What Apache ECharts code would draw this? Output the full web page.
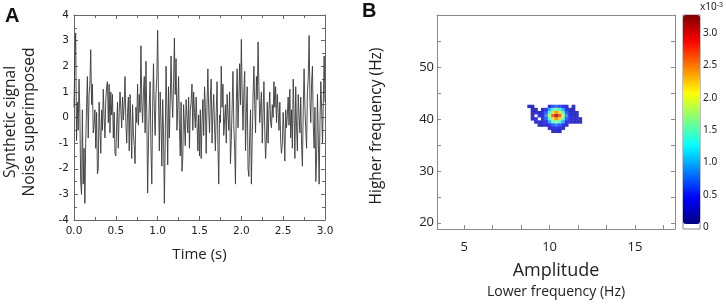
<!DOCTYPE html>
<html>
<head>
<meta charset="utf-8">
<script src="https://cdn.jsdelivr.net/npm/echarts@6/dist/echarts.min.js"></script>
<style>
  html, body { margin: 0; padding: 0; background: #fff; }
  #chart { width: 726px; height: 304px; }
</style>
</head>
<body>
<div id="chart"></div>
<script>
// A: synthetic signal, sampled every 10 ms over 0..3 s
const sampleStep = 0.01;
const signal = [
  0.4, 2.3, 3.3, -0.9, 0.6, -0.5, 1.5, 0.2, -2.5, -3.0,
  0.3, -2.6, -1.2, -3.35, -1.0, 0.4, 1.6, -0.8, 0.9, 1.3,
  2.65, 0.5, 1.3, -0.6, -0.3, 0.3, -1.2, 0.2, -2.2, -2.0,
  0.6, -0.4, -1.4, 0.3, -0.5, 1.1, 0.0, -0.8, 0.7, 1.2,
  1.4, -0.2, 1.3, -0.6, 1.0, 0.1, 0.9, -0.8, 0.2, -1.4,
  -1.5, -0.3, 0.6, -1.2, 0.2, 1.0, 0.3, -0.4, 0.8, -0.1,
  0.5, 1.6, -0.2, -1.0, 0.2, 0.8, -1.3, 0.9, -0.3, -1.6,
  0.5, -0.6, -1.1, -1.8, 0.4, -0.2, 1.3, -0.3, 0.9, 0.2,
  2.8, 0.6, -0.2, 1.0, 1.6, -0.6, 2.2, 0.1, -2.95, -1.0,
  0.5, 1.4, -1.2, -2.6, 0.4, 2.1, 0.3, -0.7, 0.9, 1.6,
  3.4, 0.8, -1.3, 1.0, -0.2, -1.9, 0.7, -0.6, -3.35, -1.0,
  2.0, 0.4, -1.85, 1.2, -0.8, 0.6, 2.4, 0.8, 0.0, 1.4,
  3.1, 0.9, 2.3, -0.5, 0.4, 1.6, -0.4, -1.5, 0.6, -2.1,
  -1.6, 0.5, -0.3, -1.1, 0.7, 0.0, -0.6, 0.8, -1.2, 0.3,
  0.6, 1.3, -0.5, 1.0, 0.2, -0.4, 0.8, -0.2, -1.3, 0.1,
  -1.5, 0.3, -1.6, -0.2, 0.7, -0.7, 1.2, 0.4, -1.4, 0.5,
  1.9, 0.3, -0.6, 0.8, 1.5, -1.0, 0.2, 0.9, -0.4, -1.3,
  0.2, 1.4, -1.1, -2.6, 0.1, -0.2, 2.0, 0.4, 1.3, -0.7,
  -0.1, 0.5, -1.0, 0.9, 0.1, -0.5, 1.0, -1.8, -0.9, 0.4,
  1.8, -0.3, -1.2, -2.6, 0.6, 1.9, -0.4, 0.7, 2.1, 0.5,
  3.05, 0.9, -0.5, 1.0, 1.8, -1.3, 0.2, 1.2, -2.0, -2.3,
  -0.8, 0.3, -2.6, -0.9, 0.8, 2.0, 0.5, -0.6, 1.6, 0.7,
  2.95, 1.2, -0.2, 0.4, 1.0, -1.0, 0.2, 1.4, -0.5, -1.6,
  -0.8, 0.6, -1.0, 0.3, 1.0, -0.2, -0.4, 0.5, 0.0, 1.4,
  0.4, 1.2, -0.2, 0.9, 0.2, -0.5, 0.6, -0.9, -1.4, -1.0,
  0.2, -0.6, -1.7, 0.3, -0.4, 0.1, 0.8, -0.3, 1.1, -0.8,
  0.3, -1.2, 1.5, 0.2, -1.6, 1.2, -0.4, -1.3, 0.9, 0.1,
  -0.6, 0.8, -1.1, -1.9, 0.3, 1.9, 0.4, -0.5, -1.2, 1.0,
  1.6, 3.2, 0.7, -0.2, 1.4, 2.0, -0.3, -1.2, 0.4, -2.5,
  -1.5, 0.9, -0.8, -2.6, -0.2, 1.4, 0.3, -1.0, 0.6, 2.4,
  0.6
];

// B: comodulogram cells (power in units of 1e-3)
const lowFreq = [8.8, 9.0, 9.2, 9.4, 9.6, 9.8, 10.0, 10.2, 10.4, 10.6, 10.8, 11.0, 11.2, 11.4, 11.6, 11.8];
const highFreq = [42.4, 41.8, 41.2, 40.6, 40.0, 39.4, 38.8, 38.2, 37.6];
const power = [
  [0.15, 0.15, 0, 0, 0, 0, 0.3, 0.55, 0.7, 0.55, 0.35, 0.2, 0, 0.2, 0, 0],
  [0, 0.2, 0.15, 0, 0.2, 0.35, 0.9, 1.4, 1.7, 1.4, 0.9, 0.35, 0.2, 0.15, 0, 0],
  [0, 0.2, 0.25, 0.15, 0.3, 0.6, 1.4, 2.2, 2.5, 2.2, 1.4, 0.6, 0.25, 0.2, 0.15, 0],
  [0, 0.15, 0, 0.25, 0.3, 0.8, 1.8, 2.7, 3.25, 2.7, 1.8, 0.8, 0.3, 0.2, 0.25, 0],
  [0, 0.2, 0.3, 0, 0.25, 0.6, 1.4, 2.2, 2.5, 2.2, 1.4, 0.6, 0.3, 0.2, 0.2, 0.15],
  [0, 0, 0.2, 0.25, 0.2, 0.35, 0.9, 1.4, 1.7, 1.4, 0.9, 0.35, 0.25, 0.2, 0.15, 0.2],
  [0, 0, 0, 0.15, 0.2, 0.2, 0.35, 0.6, 0.75, 0.6, 0.35, 0.2, 0, 0, 0, 0],
  [0, 0, 0, 0, 0, 0, 0.15, 0.3, 0.35, 0.3, 0.2, 0, 0, 0, 0, 0],
  [0, 0, 0, 0, 0, 0, 0, 0.15, 0.2, 0.15, 0, 0, 0, 0, 0, 0]
];

const timeTicks = [0, 3];
const lowTickLabels = [5, 10, 15];
const lowTicks = [5, 6.667, 8.333, 10, 11.667, 13.333, 15, 16.667];
const highTickLabels = [20, 30, 40, 50];
const highTicks = [20, 25, 30, 35, 40, 45, 50, 55];
const barTicks = [0, 0.5, 1.0, 1.5, 2.0, 2.5, 3.0];
const jet = ['#00007f', '#0000ff', '#007fff', '#00ffff', '#7fff7f', '#ffff00', '#ff7f00', '#ff0000', '#7f0000'];

const lineData = signal.map((v, i) => [i * sampleStep, v]);
const cellData = [];
highFreq.forEach((hf, r) => {
  lowFreq.forEach((lf, c) => {
    if (power[r][c] > 0) cellData.push([lf, hf, power[r][c]]);
  });
});

const axisGray = '#666';
const frameGray = '#8a8a8a';
const uiFont = 'Open Sans';

const chart = echarts.init(document.getElementById('chart'));

const option = {
  animation: false,
  backgroundColor: '#fff',
  grid: [
    { left: 74, right: 401, top: 15, bottom: 84, outerBoundsMode: 'none' },
    { left: 437, right: 51, top: 15, bottom: 75, outerBoundsMode: 'none' },
    { left: 683, right: 26, top: 15, bottom: 75, outerBoundsMode: 'none',
      show: true, backgroundColor: '#fff', borderColor: frameGray, borderWidth: 1 }
  ],
  xAxis: [
    {
      gridIndex: 0, type: 'value', min: timeTicks[0], max: timeTicks[1], interval: 0.5,
      name: 'Time (s)', nameLocation: 'middle', nameGap: 27,
      nameTextStyle: { fontFamily: uiFont, fontSize: 15, color: '#222' },
      axisLine: { onZero: false, lineStyle: { color: axisGray } },
      axisTick: { inside: true, length: 4, lineStyle: { color: axisGray } },
      minorTick: { show: true, splitNumber: 2, length: 3, lineStyle: { color: axisGray } },
      axisLabel: { margin: 6, fontFamily: 'DejaVu Sans', fontSize: 10.5, color: '#222',
        formatter: v => v.toFixed(1) },
      splitLine: { show: false }
    },
    {
      gridIndex: 0, type: 'value', position: 'top', min: timeTicks[0], max: timeTicks[1], interval: 0.5,
      axisLine: { onZero: false, lineStyle: { color: axisGray } },
      axisTick: { inside: true, length: 4, lineStyle: { color: axisGray } },
      minorTick: { show: true, splitNumber: 2, length: 3, lineStyle: { color: axisGray } },
      axisLabel: { show: false },
      splitLine: { show: false }
    },
    {
      gridIndex: 1, type: 'value', min: 3.4, max: 17.35,
      name: '{a|Amplitude}\n{b|Lower frequency (Hz)}', nameLocation: 'middle', nameGap: 30,
      nameTextStyle: {
        color: '#222',
        rich: {
          a: { fontFamily: uiFont, fontSize: 18, lineHeight: 24, color: '#222' },
          b: { fontFamily: uiFont, fontSize: 14, lineHeight: 18, color: '#222' }
        }
      },
      axisLine: { onZero: false, lineStyle: { color: frameGray } },
      axisTick: { inside: true, length: 4, customValues: lowTicks, lineStyle: { color: frameGray } },
      axisLabel: { margin: 12, customValues: lowTickLabels, fontFamily: uiFont, fontSize: 13, color: '#222' },
      splitLine: { show: false }
    },
    {
      gridIndex: 1, type: 'value', position: 'top', min: 3.4, max: 17.35,
      axisLine: { onZero: false, lineStyle: { color: frameGray } },
      axisTick: { show: false }, axisLabel: { show: false }, splitLine: { show: false }
    },
    {
      gridIndex: 2, type: 'value', min: 0, max: 1, show: false
    }
  ],
  yAxis: [
    {
      gridIndex: 0, type: 'value', min: -4, max: 4, interval: 1,
      name: 'Synthetic signal\nNoise superimposed', nameLocation: 'middle', nameGap: 35,
      nameTextStyle: { fontFamily: uiFont, fontSize: 15.5, lineHeight: 19, color: '#222', padding: [0, 9, 0, 0] },
      axisLine: { show: true, onZero: false, lineStyle: { color: axisGray } },
      axisTick: { inside: true, length: 4, lineStyle: { color: axisGray } },
      minorTick: { show: true, splitNumber: 2, length: 3, lineStyle: { color: axisGray } },
      axisLabel: { margin: 5, fontFamily: 'DejaVu Sans', fontSize: 10.5, color: '#222' },
      splitLine: { show: false }
    },
    {
      gridIndex: 0, type: 'value', position: 'right', min: -4, max: 4, interval: 1,
      axisLine: { show: true, onZero: false, lineStyle: { color: axisGray } },
      axisTick: { inside: true, length: 4, lineStyle: { color: axisGray } },
      minorTick: { show: true, splitNumber: 2, length: 3, lineStyle: { color: axisGray } },
      axisLabel: { show: false },
      splitLine: { show: false }
    },
    {
      gridIndex: 1, type: 'value', min: 18.8, max: 60,
      name: 'Higher frequency (Hz)', nameLocation: 'middle', nameGap: 52,
      nameTextStyle: { fontFamily: uiFont, fontSize: 15.5, color: '#222', padding: [0, 8, 0, 0] },
      axisLine: { show: true, onZero: false, lineStyle: { color: frameGray } },
      axisTick: { inside: true, length: 4, customValues: highTicks, lineStyle: { color: frameGray } },
      axisLabel: { margin: 3, customValues: highTickLabels, fontFamily: uiFont, fontSize: 13, color: '#222' },
      splitLine: { show: false }
    },
    {
      gridIndex: 1, type: 'value', position: 'right', min: 18.8, max: 60,
      axisLine: { show: true, onZero: false, lineStyle: { color: frameGray } },
      axisTick: { inside: true, length: 4, customValues: highTicks, lineStyle: { color: frameGray } },
      axisLabel: { show: false },
      splitLine: { show: false }
    },
    {
      gridIndex: 2, type: 'value', position: 'right', min: -0.03, max: 3.28,
      axisLine: { show: false },
      axisTick: { show: false },
      axisLabel: { margin: 3, customValues: barTicks, fontFamily: 'Noto Sans', fontSize: 10, color: '#222',
        formatter: v => (v === 0 ? '0' : v.toFixed(1)) },
      splitLine: { show: false }
    }
  ],
  visualMap: {
    type: 'continuous',
    seriesIndex: 1,
    dimension: 2,
    min: 0,
    max: 3.28,
    left: 683,
    top: 15,
    padding: 0,
    itemWidth: 17,
    itemHeight: 209,
    calculable: false,
    showLabel: false,
    text: null,
    inRange: { color: jet }
  },
  graphic: [
    { type: 'text', left: 5, top: 6, style: { text: 'A', font: 'bold 20px "Liberation Sans"', fill: '#111' } },
    { type: 'text', left: 362, top: 1, style: { text: 'B', font: 'bold 20px "Liberation Sans"', fill: '#111' } },
    { type: 'text', left: 700, top: 2, style: {
        text: 'x10{s|-3}', font: '10px "Noto Sans"', fill: '#222',
        rich: { s: { fontSize: 7, verticalAlign: 'top', padding: [0, 0, 4, 0], fill: '#222' } }
    } }
  ],
  series: [
    {
      name: 'signal',
      type: 'line',
      xAxisIndex: 0,
      yAxisIndex: 0,
      data: lineData,
      symbol: 'none',
      lineStyle: { color: '#3a3a3a', width: 0.9 }
    },
    {
      name: 'comodulogram',
      type: 'scatter',
      xAxisIndex: 2,
      yAxisIndex: 2,
      data: cellData,
      symbol: 'rect',
      symbolSize: [3.7, 3.4]
    }
  ]
};

option && chart.setOption(option);
</script>
</body>
</html>
